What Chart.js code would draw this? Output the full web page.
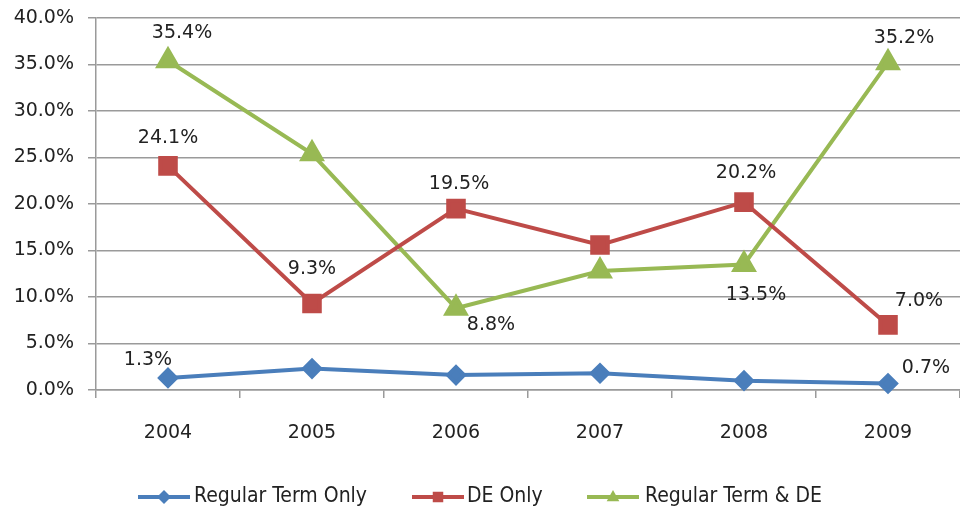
<!DOCTYPE html>
<html lang="en">
<head>
  <meta charset="UTF-8">
  <title>Regular Term / DE chart</title>
  <script src="https://cdn.jsdelivr.net/npm/chart.js"></script>
  <style>
    html, body { margin: 0; padding: 0; background: #fff; overflow: hidden; }
    canvas { display: block; }
  </style>
</head>
<body>
  <canvas id="chart" width="960" height="515"></canvas>

  <script>
    // Data (percent)
    const years = ['2004', '2005', '2006', '2007', '2008', '2009'];
    const regularTermOnly = [1.3, 2.3, 1.6, 1.8, 1.0, 0.7];
    const deOnly = [24.1, 9.3, 19.5, 15.6, 20.2, 7.0];
    const regularTermAndDE = [35.4, 25.4, 8.8, 12.8, 13.5, 35.2];
    const yTicks = [0, 5, 10, 15, 20, 25, 30, 35, 40];

    // which points carry a value label
    const regularTermOnlyShown = [0, 5];
    const deOnlyShown = [0, 1, 2, 4, 5];
    const regularTermAndDEShown = [0, 2, 4, 5];

    const BLUE = '#4a7ebb', RED = '#be4b48', GREEN = '#98b954';
    const GRID = '#9a9a9a';
    const FONT = '"DejaVu Sans", sans-serif';

    // label placement, relative to the point (dx, dy)
    const labelOffsets = [
      { 0: [-20, -18], 5: [38, -15] },
      { 0: [0, -28], 1: [0, -34], 2: [3, -25], 4: [2, -29], 5: [31, -24] },
      { 0: [14, -28], 2: [35, 17], 4: [12, 31], 5: [16, -25] }
    ];

    // legend layout: swatch start x, text start x
    const legendPos = [[138, 194], [412, 467], [587, 645]];
    const legendY = 497;

    function drawMarker(g, style, x, y, r) {
      g.beginPath();
      if (style === 'rectRot') {
        g.moveTo(x, y - r); g.lineTo(x + r, y); g.lineTo(x, y + r); g.lineTo(x - r, y);
      } else if (style === 'rect') {
        g.rect(x - r * 0.75, y - r * 0.75, r * 1.5, r * 1.5);
      } else {
        g.moveTo(x, y - r); g.lineTo(x + r * 0.9, y + r * 0.6); g.lineTo(x - r * 0.9, y + r * 0.6);
      }
      g.closePath(); g.fill();
    }

    const valueLabels = {
      id: 'valueLabels',
      afterDatasetsDraw(chart) {
        const ctx = chart.ctx;
        const shown = [regularTermOnlyShown, deOnlyShown, regularTermAndDEShown];
        ctx.save();
        ctx.font = '19px ' + FONT;
        ctx.fillStyle = '#222';
        ctx.textAlign = 'center';
        ctx.textBaseline = 'middle';
        chart.data.datasets.forEach((ds, i) => {
          const meta = chart.getDatasetMeta(i);
          shown[i].forEach(idx => {
            const pt = meta.data[idx];
            const off = labelOffsets[i][idx];
            ctx.fillText(ds.data[idx].toFixed(1) + '%', pt.x + off[0], pt.y + off[1]);
          });
        });
        ctx.restore();
      }
    };

    // bottom legend: line with marker, then the series name
    const lineLegend = {
      id: 'lineLegend',
      afterDraw(chart) {
        const g = chart.ctx;
        g.save();
        g.font = '21px "DejaVu Sans Condensed", "DejaVu Sans", sans-serif';
        g.textBaseline = 'middle';
        g.textAlign = 'left';
        chart.data.datasets.forEach((ds, i) => {
          const [sx, tx] = legendPos[i];
          g.strokeStyle = ds.borderColor;
          g.fillStyle = ds.borderColor;
          g.lineWidth = 4;
          g.beginPath(); g.moveTo(sx, legendY); g.lineTo(sx + 52, legendY); g.stroke();
          drawMarker(g, ds.pointStyle, sx + 26, legendY, 7);
          g.fillStyle = '#222';
          g.fillText(ds.label, tx, legendY);
        });
        g.restore();
      }
    };

    const ctx = document.getElementById('chart').getContext('2d');
    new Chart(ctx, {
      type: 'line',
      data: {
        labels: years,
        datasets: [
          {
            label: 'Regular Term Only',
            data: regularTermOnly,
            borderColor: BLUE, backgroundColor: BLUE,
            borderWidth: 4, pointStyle: 'rectRot', pointRadius: 8, clip: false
          },
          {
            label: 'DE Only',
            data: deOnly,
            borderColor: RED, backgroundColor: RED,
            borderWidth: 4, pointStyle: 'rect', pointRadius: 11, clip: false
          },
          {
            label: 'Regular Term & DE',
            data: regularTermAndDE,
            borderColor: GREEN, backgroundColor: GREEN,
            borderWidth: 4, pointStyle: 'triangle', pointRadius: 11, clip: false
          }
        ]
      },
      options: {
        responsive: false,
        animation: false,
        layout: { autoPadding: false, padding: { top: 18, right: 0, bottom: 63, left: 0 } },
        plugins: {
          tooltip: { enabled: false },
          legend: { display: false }
        },
        scales: {
          x: {
            offset: true,
            grid: { offset: true, drawOnChartArea: false, drawTicks: true, tickLength: 8, color: GRID, lineWidth: 1.5 },
            border: { color: GRID, width: 1.5 },
            ticks: { color: '#222', padding: 24, font: { family: FONT, size: 19 } },
            afterFit(scale) {
              scale.height = 62;
              scale.paddingLeft = 0;
              scale.paddingRight = 0;
            }
          },
          y: {
            min: 0,
            max: 40,
            afterBuildTicks(scale) { scale.ticks = yTicks.map(v => ({ value: v })); },
            grid: { color: GRID, lineWidth: 1.5, tickLength: 8 },
            border: { color: GRID, width: 1.5 },
            ticks: {
              color: '#222', padding: 14,
              font: { family: FONT, size: 19 },
              callback: v => v.toFixed(1) + '%'
            },
            afterFit(scale) {
              scale.width = 96;
              scale.paddingTop = 0;
              scale.paddingBottom = 0;
            }
          }
        }
      },
      plugins: [valueLabels, lineLegend]
    });
  </script>
</body>
</html>
